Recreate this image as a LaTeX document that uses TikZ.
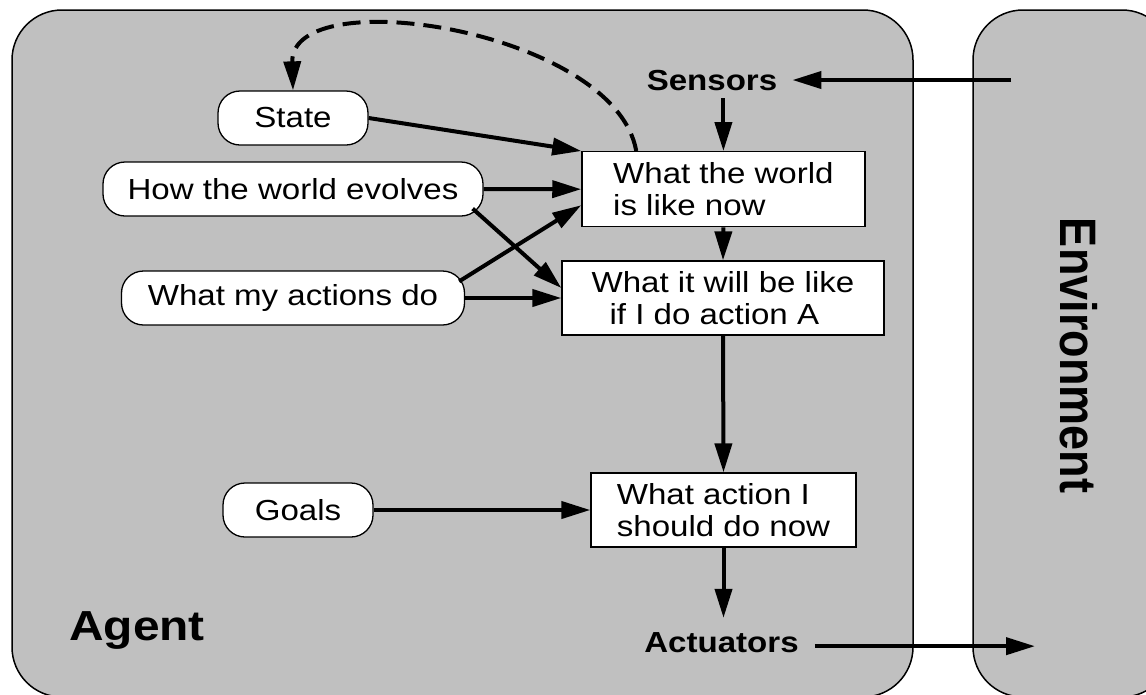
\documentclass[tikz,border=0pt]{standalone}
\usepackage{fontspec}
\setmainfont{Liberation Sans}[FakeStretch=1.14]
\newfontfamily\envfont{Liberation Sans}
\usetikzlibrary{arrows.meta,calc}
\definecolor{agentgray}{RGB}{192,192,192}
\tikzset{
  panel/.style={draw=black, line width=1.5pt, fill=agentgray, rounded corners=50pt},
  oval/.style={draw=black, line width=1.3pt, fill=white, rounded corners=22pt,
    minimum height=54pt, inner sep=0pt, font=\fontsize{29}{32}\selectfont},
  box/.style={draw=black, line width=1.3pt, fill=white, minimum height=75pt,
    inner sep=0pt, align=left, font=\fontsize{29}{32}\selectfont},
  lbl/.style={inner sep=0pt, font=\bfseries\fontsize{29}{32}\selectfont},
  arr/.style={line width=4pt, -{Triangle[length=29pt,width=17pt]}},
}
\begin{document}
\begin{tikzpicture}[x=1pt,y=-1pt]
\useasboundingbox (0,0) rectangle (1146,694);
\clip (0,0) rectangle (1146,694);
\fill[white] (0,0) rectangle (1146,694);
% frames
\path[panel] (12,10) rectangle (913,697);
\path[panel] (973,10) rectangle (1172,697);
% labels
\node[lbl, anchor=base] (sensors) at (712,90) {Sensors};
\node[lbl, anchor=base] (actuators) at (721.5,652) {Actuators};
\node[anchor=base west, inner sep=0pt, font=\bfseries\fontsize{42}{48}\selectfont] (agent) at (69,640) {Agent};
\node[inner sep=0pt] (env) at (1078.5,355.5)
  {\scalebox{1.14}[1]{\rotatebox{-90}{\envfont\bfseries\fontsize{45}{50}\selectfont Environment}}};
% ovals
\node[oval, minimum width=150pt] (state) at (293,118) {State};
\node[oval, minimum width=380pt] (how) at (293,189) {How the world evolves};
\node[oval, minimum width=343pt] (acts) at (293,298) {What my actions do};
\node[oval, minimum width=150pt] (goals) at (298,510) {Goals};
% boxes
\node[box, minimum width=283pt] (world) at (723.4,189.2) {What the world\\is like now};
\node[box, minimum width=322pt, minimum height=74pt] (will) at (723,298) {What it will be like\\\hspace*{18pt}if I do action A};
\node[box, minimum width=265pt, minimum height=74pt] (act) at (723.5,510) {What action I\\should do now};
% free ends inside the environment
\coordinate (envin) at (1011,81);
\coordinate (envout) at (1035,646);
% connectors
\draw[arr, shorten >=15pt] (sensors.east -| envin) -- (sensors.east);
\draw[arr, shorten <=8pt] (sensors.south -| world.north) -- (world.north);
\draw[arr] (world.south) -- (will.north);
\draw[arr] (will.south) -- (act.north);
\draw[arr, shorten >=14pt] (act.south) -- (act.south |- actuators.north);
\draw[arr, shorten <=16pt] ([yshift=-4pt]actuators.east) -- ([yshift=-4pt]actuators.east -| envout);
\draw[arr] (state.east) -- (world.north west);
\draw[arr] (how.east) -- (world.west);
\draw[arr] ($(how.south east)+(-11,-8)$) -- ($(will.west)+(0,-10)$);
\draw[arr] ($(acts.north east)+(-6,11)$) -- ($(world.west)+(0,16)$);
\draw[arr] (acts.east) -- (will.west);
\draw[arr] (goals.east) -- (act.west);
\draw[arr, dash pattern=on 18pt off 9pt] ($(world.north west)+(55,0)$) .. controls (615,30) and (290,-20) .. (state.north);
\end{tikzpicture}
\end{document}
